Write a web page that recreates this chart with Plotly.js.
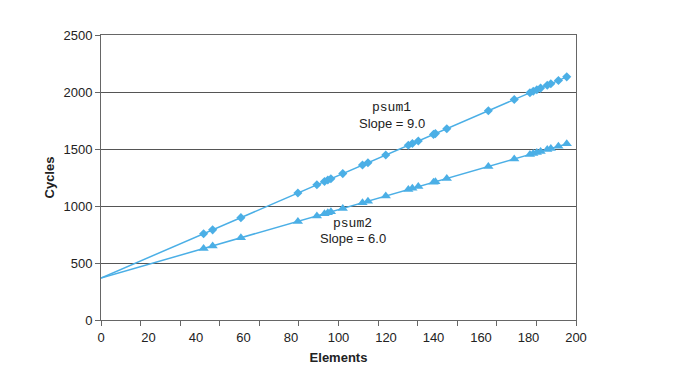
<!DOCTYPE html>
<html>
<head>
<meta charset="utf-8">
<script src="https://cdn.plot.ly/plotly-3.0.1.min.js"></script>
<style>html,body{margin:0;padding:0;background:#fff;}#chart{width:693px;height:366px;}</style>
</head>
<body>
<div id="chart"></div>
<script>
var elements = [43.2, 47.0, 58.9, 82.9, 90.9, 94.1, 95.5, 96.8, 101.8, 110.1, 112.4, 119.9, 129.4, 131.1, 133.6, 140.0, 140.8, 145.6, 163.1, 174.0, 180.6, 182.0, 183.5, 185.1, 187.9, 189.4, 192.6, 196.1];
var psum1Cycles = [757, 791, 898, 1114, 1186, 1215, 1228, 1239, 1284, 1359, 1380, 1447, 1533, 1548, 1570, 1628, 1635, 1678, 1836, 1934, 1993, 2006, 2020, 2034, 2059, 2073, 2101, 2133];
var psum2Cycles = [627, 650, 721, 865, 913, 933, 941, 949, 979, 1029, 1042, 1087, 1144, 1155, 1170, 1208, 1213, 1242, 1347, 1412, 1452, 1460, 1469, 1479, 1495, 1504, 1524, 1545];
var fitX = [0, 196.1];
var psum1Fit = [368, 2133];
var psum2Fit = [368, 1545];
var xTickLabels = [0, 20, 40, 60, 80, 100, 120, 140, 160, 180, 200];
var xTickMarks = [0, 16.667, 33.333, 50, 66.667, 83.333, 100, 116.667, 133.333, 150, 166.667, 183.333, 200];
var yTicks = [0, 500, 1000, 1500, 2000, 2500];

var blue = '#4bafe6';
var traces = [
  {x: fitX, y: psum1Fit, mode: 'lines', line: {color: blue, width: 1.5}, hoverinfo: 'skip', showlegend: false},
  {x: fitX, y: psum2Fit, mode: 'lines', line: {color: blue, width: 1.5}, hoverinfo: 'skip', showlegend: false},
  {x: elements, y: psum1Cycles, mode: 'markers', name: 'psum1', marker: {symbol: 'diamond', size: 7, color: blue}, showlegend: false},
  {x: elements, y: psum2Cycles, mode: 'markers', name: 'psum2', marker: {symbol: 'triangle-up', size: 9, color: blue}, showlegend: false},
  {x: [0], y: [0], xaxis: 'x2', mode: 'markers', marker: {opacity: 0}, hoverinfo: 'skip', showlegend: false}
];

var font = {family: 'Liberation Sans, Arial, sans-serif', size: 13, color: '#222'};
var layout = {
  width: 693, height: 366,
  margin: {l: 101, r: 117, t: 35, b: 46},
  paper_bgcolor: '#fff', plot_bgcolor: '#fff',
  font: font,
  showlegend: false,
  xaxis: {
    range: [0, 200], tickvals: xTickLabels, ticktext: xTickLabels.map(String),
    ticks: 'outside', ticklen: 5, tickcolor: 'rgba(0,0,0,0)',
    showgrid: false, zeroline: false, showline: true, linecolor: '#666', linewidth: 1, mirror: true,
    title: {text: '<b>Elements</b>', font: {family: 'Liberation Sans, Arial, sans-serif', size: 13, color: '#222'}, standoff: 9},
    automargin: false
  },
  xaxis2: {
    range: [0, 200], overlaying: 'x', anchor: 'y', side: 'bottom',
    tickvals: xTickMarks, ticks: 'outside', ticklen: 5, tickcolor: '#666',
    showticklabels: false, showgrid: false, zeroline: false, showline: false
  },
  yaxis: {
    range: [0, 2500], tickvals: yTicks, ticks: 'outside', ticklen: 5, tickcolor: '#666',
    showgrid: true, gridcolor: '#555', gridwidth: 1, zeroline: false,
    showline: true, linecolor: '#666', linewidth: 1, mirror: true,
    title: {text: '<b>Cycles</b>', font: {family: 'Liberation Sans, Arial, sans-serif', size: 13, color: '#222'}, standoff: 5},
    automargin: false
  },
  annotations: [
    {x: 122.5, y: 1860, xref: 'x', yref: 'y', text: 'psum1', showarrow: false, font: {family: 'Liberation Mono, Courier New, monospace', size: 13, color: '#222'}},
    {x: 122.5, y: 1725, xref: 'x', yref: 'y', text: 'Slope = 9.0', showarrow: false, font: font},
    {x: 106, y: 850, xref: 'x', yref: 'y', text: 'psum2', showarrow: false, font: {family: 'Liberation Mono, Courier New, monospace', size: 13, color: '#222'}},
    {x: 106, y: 712, xref: 'x', yref: 'y', text: 'Slope = 6.0', showarrow: false, font: font}
  ]
};
Plotly.newPlot('chart', traces, layout, {displayModeBar: false, staticPlot: true});
</script>
</body>
</html>
